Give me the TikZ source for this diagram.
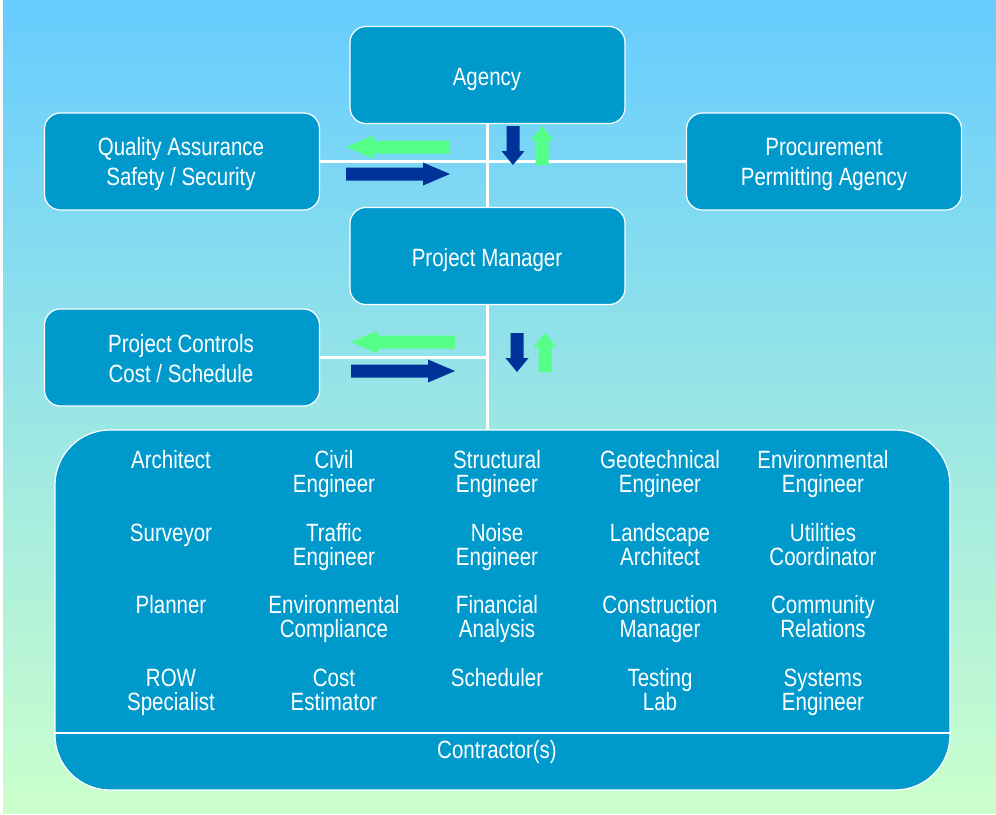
\documentclass[tikz,border=0pt]{standalone}
\usepackage{fontspec}
\setmainfont{Liberation Sans}[FakeStretch=0.82]
\definecolor{boxblue}{RGB}{0,153,204}
\definecolor{darrow}{RGB}{0,51,153}
\definecolor{garrow}{RGB}{85,255,136}
\definecolor{bgtop}{RGB}{102,204,255}
\definecolor{bgbot}{RGB}{204,255,204}
\tikzset{
  box/.style={draw=white, line width=1.2pt, fill=boxblue, rounded corners=16pt,
    minimum width=275pt, minimum height=97pt, inner sep=0pt},
  lbl/.style={text=white, font=\fontsize{25}{24}\selectfont, inner sep=0pt, anchor=base, align=center},
  lbltwo/.style={lbl, yshift=-24pt},
  lblw/.style={lbl, font=\fontsize{25}{30}\selectfont, yshift=-30pt},
  wline/.style={draw=white, line width=3pt},
  harrow/.pic={\fill (0,-6.5) -- (77,-6.5) -- (77,-11.5) -- (104,0) -- (77,11.5) -- (77,6.5) -- (0,6.5) -- cycle;},
  varrow/.pic={\fill (-6.5,0) -- (-6.5,25) -- (-11.5,25) -- (0,39) -- (11.5,25) -- (6.5,25) -- (6.5,0) -- cycle;}
}
\begin{document}
\begin{tikzpicture}[x=1pt,y=-1pt]
\useasboundingbox (0,0) rectangle (996,814);
\fill[white] (0,0) rectangle (996,814);
\fill[top color=bgtop, bottom color=bgbot] (3,0) rectangle (996,813);

% boxes (shapes only)
\node[box] (agency) at (487.5,75) {};
\node[box] (qa) at (182,161.5) {};
\node[box] (proc) at (824,161.5) {};
\node[box] (pc) at (182,357.5) {};
\node[draw=white, line width=1.2pt, fill=boxblue, rounded corners=55pt,
  minimum width=895pt, minimum height=360pt, inner sep=0pt] (team) at (502.5,610) {};

% connector lines
\draw[wline] (agency.south) -- (agency.south |- team.north);
\draw[wline] (qa.east) -- (proc.west);
\draw[wline] (pc.east) -- (pc.east -| agency.south);

\node[box] (pm) at (487.5,256) {};

% separator in contractor box
\coordinate (sepy) at (0,733);
\draw[white, line width=2pt] (team.west |- sepy) -- (team.east |- sepy);

% flow arrows
\pic[garrow, rotate=180] at (450,147) {harrow};
\pic[darrow] at (346,174) {harrow};
\pic[darrow] at (513,126) {varrow};
\pic[garrow, rotate=180] at (542,165) {varrow};
\pic[garrow, rotate=180] at (455,342) {harrow};
\pic[darrow] at (351,371) {harrow};
\pic[darrow] at (517,333) {varrow};
\pic[garrow, rotate=180] at (545,372) {varrow};

% labels
\node[lbl] (tagency) at (487,85) {Agency};
\node[lblw] (tqa) at (181,155) {Quality Assurance\\Safety / Security};
\node[lblw] (tproc) at (824,155) {Procurement\\Permitting Agency};
\node[lbl] (tpm) at (487,266) {Project Manager};
\node[lblw] (tpc) at (181,352) {Project Controls\\Cost / Schedule};

\node[lbl] (c11) at (171,468) {Architect};
\node[lbltwo] (c12) at (334,468) {Civil\\Engineer};
\node[lbltwo] (c13) at (497,468) {Structural\\Engineer};
\node[lbltwo] (c14) at (660,468) {Geotechnical\\Engineer};
\node[lbltwo] (c15) at (823,468) {Environmental\\Engineer};

\node[lbl] (c21) at (171,541) {Surveyor};
\node[lbltwo] (c22) at (334,541) {Traffic\\Engineer};
\node[lbltwo] (c23) at (497,541) {Noise\\Engineer};
\node[lbltwo] (c24) at (660,541) {Landscape\\Architect};
\node[lbltwo] (c25) at (823,541) {Utilities\\Coordinator};

\node[lbl] (c31) at (171,613) {Planner};
\node[lbltwo] (c32) at (334,613) {Environmental\\Compliance};
\node[lbltwo] (c33) at (497,613) {Financial\\Analysis};
\node[lbltwo] (c34) at (660,613) {Construction\\Manager};
\node[lbltwo] (c35) at (823,613) {Community\\Relations};

\node[lbltwo] (c41) at (171,686) {ROW\\Specialist};
\node[lbltwo] (c42) at (334,686) {Cost\\Estimator};
\node[lbl] (c43) at (497,686) {Scheduler};
\node[lbltwo] (c44) at (660,686) {Testing\\Lab};
\node[lbltwo] (c45) at (823,686) {Systems\\Engineer};

\node[lbl] (tcon) at (497,758) {Contractor(s)};
\end{tikzpicture}
\end{document}
